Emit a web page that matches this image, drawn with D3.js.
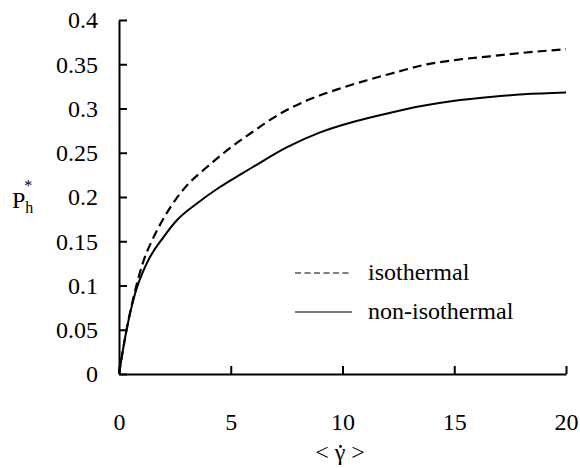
<!DOCTYPE html>
<html>
<head>
<meta charset="utf-8">
<script src="https://cdn.jsdelivr.net/npm/d3@7"></script>
<style>
  html, body { margin: 0; padding: 0; background: #fff; }
</style>
</head>
<body>
<div id="chart"></div>
<script>
// shear rate <gamma-dot> vs dimensionless pressure P_h*
var isoRate = [0, 0.3, 0.7, 1.1, 1.5, 2.0, 2.5, 3.0, 3.9, 4.7, 6.0, 7.2, 8.4, 9.7, 11.1, 12.4, 13.6, 15.1, 16.6, 18.1, 20];
var isoP = [0, 0.045, 0.092, 0.128, 0.152, 0.176, 0.196, 0.212, 0.233, 0.250, 0.274, 0.294, 0.309, 0.321, 0.332, 0.341, 0.349, 0.355, 0.359, 0.363, 0.367];

var nonIsoRate = [0, 0.34, 0.72, 1.24, 2.0, 2.6, 3.5, 4.5, 5.4, 6.0, 7.5, 9.0, 10.5, 12.1, 13.6, 15.1, 16.6, 18.1, 20];
var nonIsoP = [0, 0.050, 0.091, 0.125, 0.155, 0.174, 0.193, 0.211, 0.225, 0.234, 0.256, 0.273, 0.285, 0.295, 0.303, 0.309, 0.313, 0.316, 0.318];

var xTicks = [0, 5, 10, 15, 20];
var yTicks = [0, 0.05, 0.1, 0.15, 0.2, 0.25, 0.3, 0.35, 0.4];
var seriesNames = ["isothermal", "non-isothermal"];

var width = 580, height = 468;
var serif = "Liberation Serif";

var svg = d3.select("#chart").append("svg")
  .attr("width", width)
  .attr("height", height)
  .attr("font-family", serif);

var x = d3.scaleLinear().domain([0, 20]).range([119, 566]);
var y = d3.scaleLinear().domain([0, 0.4]).range([374, 20]);

// axes: ticks point inward, thick black lines
var xAxis = d3.axisBottom(x)
  .tickValues(xTicks)
  .tickSizeInner(-8)
  .tickSizeOuter(0)
  .tickPadding(39)
  .tickFormat(d => String(d));

var yAxis = d3.axisLeft(y)
  .tickValues(yTicks)
  .tickSizeInner(-8)
  .tickSizeOuter(0)
  .tickPadding(21)
  .tickFormat(d => String(+d.toFixed(2)));

var gx = svg.append("g")
  .attr("transform", "translate(0," + y(0) + ")")
  .call(xAxis);

var gy = svg.append("g")
  .attr("transform", "translate(" + x(0) + ",0)")
  .call(yAxis);

[gx, gy].forEach(g => {
  g.attr("font-family", serif).attr("font-size", 24);
  g.select(".domain").attr("stroke", "#000").attr("stroke-width", 2);
  g.selectAll(".tick line").attr("stroke", "#000").attr("stroke-width", 2);
  g.selectAll(".tick text").attr("fill", "#000");
});
gy.selectAll(".tick text").attr("dy", "0.33em");

// curves
var line = d3.line()
  .x(d => x(d[0]))
  .y(d => y(d[1]))
  .curve(d3.curveMonotoneX);

var isoData = d3.zip(isoRate, isoP);
var nonIsoData = d3.zip(nonIsoRate, nonIsoP);

svg.append("path")
  .datum(nonIsoData)
  .attr("fill", "none")
  .attr("stroke", "#000")
  .attr("stroke-width", 2)
  .attr("d", line);

svg.append("path")
  .datum(isoData)
  .attr("fill", "none")
  .attr("stroke", "#000")
  .attr("stroke-width", 2.2)
  .attr("stroke-dasharray", "9,5")
  .attr("d", line);

// legend
var legend = svg.append("g");
var legendRows = [
  { name: seriesNames[0], dash: "6,3.5", y: 273 },
  { name: seriesNames[1], dash: null, y: 312 }
];
legendRows.forEach(r => {
  legend.append("line")
    .attr("x1", 295).attr("x2", 352)
    .attr("y1", r.y).attr("y2", r.y)
    .attr("stroke", "#000")
    .attr("stroke-width", 1.2)
    .attr("stroke-dasharray", r.dash);
  legend.append("text")
    .attr("x", 368)
    .attr("y", r.y + 7)
    .attr("font-size", 24)
    .text(r.name);
});

// axis titles
svg.append("text")
  .attr("x", 340)
  .attr("y", 460)
  .attr("text-anchor", "middle")
  .attr("font-size", 24)
  .text("< \u03B3 >");
// dot over gamma (time derivative)
svg.append("circle")
  .attr("cx", 340.5)
  .attr("cy", 446.5)
  .attr("r", 1.4)
  .attr("fill", "#000");

var yl = svg.append("text")
  .attr("x", 12)
  .attr("y", 208)
  .attr("font-size", 24);
yl.append("tspan").text("P");
yl.append("tspan").attr("font-size", 16).attr("dy", 5).text("h");
yl.append("tspan").attr("font-size", 16).attr("dx", -9).attr("dy", -22).text("*");
</script>
</body>
</html>
